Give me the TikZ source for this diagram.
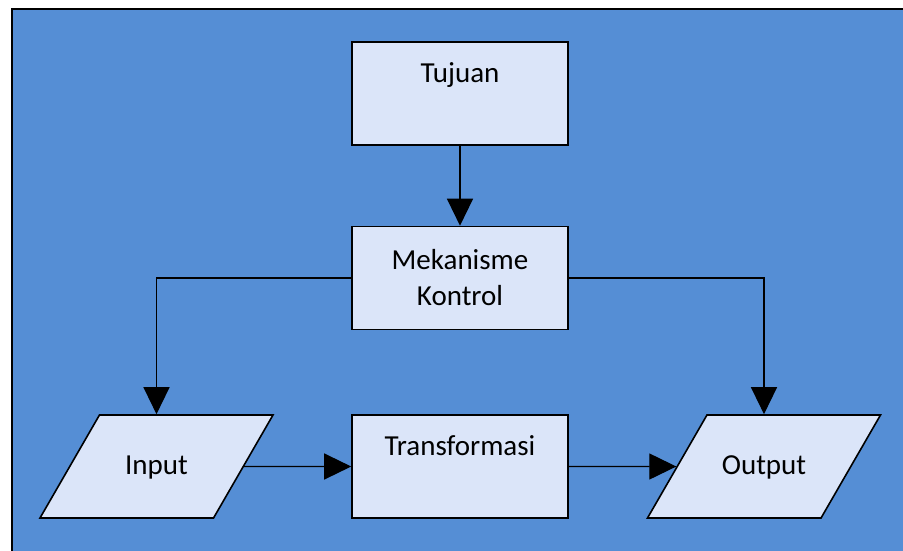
\documentclass[tikz,border=0pt]{standalone}
\usepackage{fontspec}
\setmainfont{Carlito}
\usetikzlibrary{shapes.geometric,arrows.meta}
\definecolor{bgblue}{RGB}{85,142,213}
\definecolor{boxfill}{RGB}{219,229,249}
\tikzset{
  flowbox/.style={draw=black,line width=1.6pt,fill=boxfill,minimum width=216pt,minimum height=103pt,inner sep=0pt,font=\fontsize{29}{36}\selectfont,align=center},
  topbox/.style={flowbox,text depth=41pt},
  iobox/.style={trapezium,trapezium left angle=60,trapezium right angle=120,trapezium stretches body,draw=black,line width=1.6pt,fill=boxfill,minimum width=233pt,text height=59.25pt,text depth=43.75pt,inner sep=0pt,font=\fontsize{29}{36}\selectfont},
  flowline/.style={line width=1.3pt,-{Triangle[length=27pt,width=26pt]}}
}
\begin{document}
\begin{tikzpicture}[x=1pt,y=-1pt]
\fill[white] (0,0) rectangle (903,550);
\useasboundingbox (0,0) rectangle (903,550);
\filldraw[fill=bgblue,draw=black,line width=2pt] (12,9) rectangle (915,560);
\node[topbox] (tujuan) at (460,93.5) {Tujuan};
\node[flowbox] (kontrol) at (460,278) {Mekanisme\\Kontrol};
\node[topbox] (transformasi) at (460,466.5) {Transformasi};
\node[iobox] (input) at (156.5,466.5) {Input};
\node[iobox] (output) at (764,466.5) {Output};
\draw[flowline] (tujuan) -- (kontrol);
\draw[flowline] (kontrol.west) -| (input.north);
\draw[flowline] (kontrol.east) -| (output.north);
\draw[flowline] (input.east) -- (transformasi.west);
\draw[flowline] (transformasi.east) -- (output.west);
\end{tikzpicture}
\end{document}
